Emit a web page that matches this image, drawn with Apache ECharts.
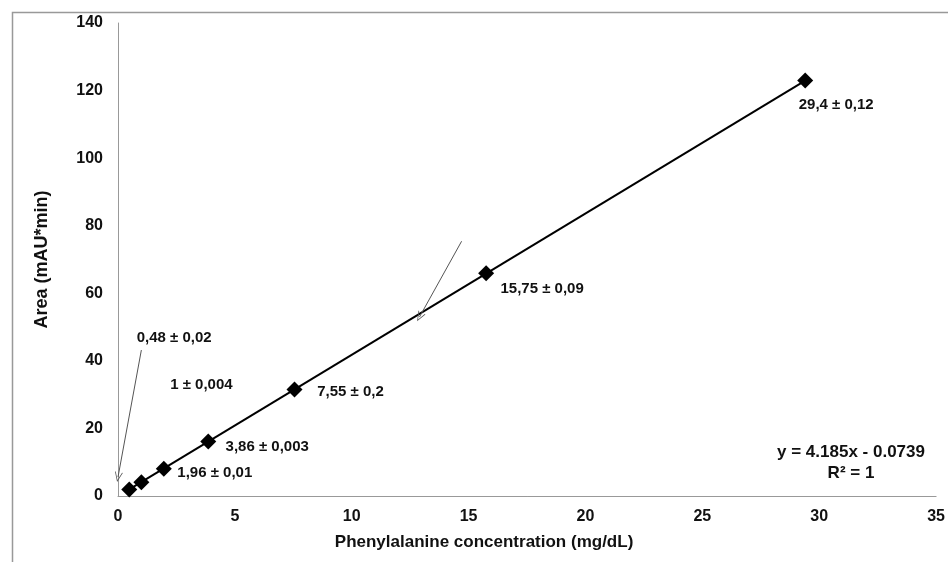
<!DOCTYPE html>
<html><head><meta charset="utf-8">
<script src="https://cdn.jsdelivr.net/npm/echarts@6/dist/echarts.min.js"></script>
<style>html,body{margin:0;padding:0;background:#fff}#c{width:948px;height:562px}</style>
</head><body><div id="c"></div>
<script>
// Data
const concentrations = [0.48, 1, 1.96, 3.86, 7.55, 15.75, 29.4];
const areas = [1.9, 4.1, 8.1, 16.1, 31.5, 65.9, 123.0];
const pointLabels = ['0,48 ± 0,02', '1 ± 0,004', '1,96 ± 0,01', '3,86 ± 0,003', '7,55 ± 0,2', '15,75 ± 0,09', '29,4 ± 0,12'];
const trendX = [0.48, 29.4];
const trendY = [1.93, 122.96];
const arrowA = [[1.0, 43.2], [0.0, 5.6]];
const arrowB = [[14.7, 75.4], [12.9, 53.0]];
const equationText = 'y = 4.185x - 0.0739';
const r2Text = 'R² = 1';
const xTicks = [0, 5, 10, 15, 20, 25, 30, 35];
const yTicks = [0, 20, 40, 60, 80, 100, 120, 140];

// label offsets (style)
const labelOffsets = [[45, -152], [60, -97], [51, 4], [59, 5], [56, 2], [56, 16], [31, 24]];

const font = 'Liberation Sans, Arial, sans-serif';
const chart = echarts.init(document.getElementById('c'), null, {renderer: 'canvas'});
const openArrow = 'path://M5,0 L10,10 L9,10 L5,2 L1,10 L0,10 Z';

chart.setOption({
  animation: false,
  backgroundColor: '#fff',
  grid: {left: 118, right: 11, top: 23, bottom: 66, containLabel: false},
  xAxis: {
    type: 'value', min: xTicks[0], max: xTicks[xTicks.length - 1], interval: 5,
    name: 'Phenylalanine concentration (mg/dL)', nameLocation: 'middle', nameGap: 38,
    nameTextStyle: {fontFamily: font, fontWeight: 'bold', fontSize: 17, color: '#111', padding: [0, 86, 0, 0]},
    axisLine: {show: true, onZero: false, lineStyle: {color: '#999', width: 1}},
    axisTick: {show: false},
    splitLine: {show: false},
    axisLabel: {fontFamily: font, fontWeight: 'bold', fontSize: 16, color: '#111', margin: 13}
  },
  yAxis: {
    type: 'value', min: yTicks[0], max: yTicks[yTicks.length - 1], interval: 20,
    name: 'Area (mAU*min)', nameLocation: 'middle', nameGap: 67,
    nameTextStyle: {fontFamily: font, fontWeight: 'bold', fontSize: 18, color: '#111'},
    axisLine: {show: true, onZero: false, lineStyle: {color: '#999', width: 1}},
    axisTick: {show: false},
    splitLine: {show: false},
    axisLabel: {fontFamily: font, fontWeight: 'bold', fontSize: 16, color: '#111', margin: 15}
  },
  graphic: [
    {type: 'rect', left: 10, top: 10, shape: {width: 1000, height: 700}, style: {fill: 'none', stroke: '#999', lineWidth: 1.5}, z: -1},
    {type: 'text', x: 851, y: 452, style: {text: equationText, font: 'bold 17px ' + font, fill: '#111', align: 'center', verticalAlign: 'middle'}},
    {type: 'text', x: 851, y: 473, style: {text: r2Text, font: 'bold 17px ' + font, fill: '#111', align: 'center', verticalAlign: 'middle'}}
  ],
  series: [
    {
      type: 'line', name: 'trend',
      data: trendX.map((x, i) => [x, trendY[i]]),
      symbol: 'none', lineStyle: {color: '#000', width: 2}, z: 2,
      markLine: {
        silent: true, symbol: ['none', openArrow], symbolSize: [8, 10],
        label: {show: false},
        lineStyle: {color: '#555', width: 1, type: 'solid'},
        data: [
          [{coord: arrowA[0]}, {coord: arrowA[1]}],
          [{coord: arrowB[0]}, {coord: arrowB[1]}]
        ]
      }
    },
    {
      type: 'scatter', name: 'points',
      data: concentrations.map((x, i) => ({
        value: [x, areas[i]],
        label: {show: true, position: 'inside', offset: labelOffsets[i], formatter: pointLabels[i],
          fontFamily: font, fontWeight: 'bold', fontSize: 15, color: '#111', textBorderWidth: 0}
      })),
      symbol: 'diamond', symbolSize: 16, itemStyle: {color: '#000', opacity: 1}, z: 3
    }
  ]
});
</script></body></html>
